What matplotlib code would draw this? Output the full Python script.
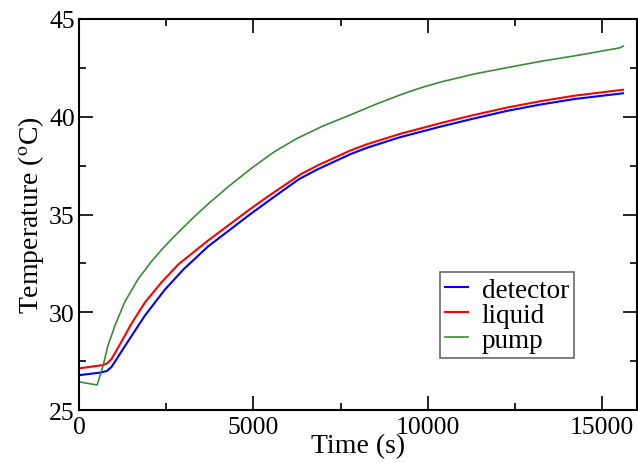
import matplotlib
matplotlib.use("Agg")
import matplotlib.pyplot as plt
from matplotlib.ticker import MultipleLocator

# Data
t_det = [0, 640, 800, 930, 1060, 1310, 1890, 2460, 3000, 3710, 3960, 4900, 5400, 6300, 6830, 7800, 8270, 9200, 10380, 11300, 12300, 13250, 14220, 15600]
detector = [26.78, 26.92, 27.0, 27.2, 27.55, 28.25, 29.83, 31.15, 32.2, 33.38, 33.72, 35.0, 35.65, 36.8, 37.3, 38.1, 38.42, 38.95, 39.5, 39.9, 40.31, 40.63, 40.91, 41.2]

t_liq = [0, 690, 800, 930, 1060, 1220, 1500, 1890, 2370, 2850, 3710, 3860, 4910, 5400, 6350, 6830, 7790, 8270, 9220, 10380, 11300, 12300, 13250, 14220, 15600]
liquid = [27.13, 27.30, 27.38, 27.6, 28.0, 28.5, 29.4, 30.5, 31.54, 32.45, 33.68, 33.88, 35.28, 35.9, 37.05, 37.5, 38.28, 38.6, 39.13, 39.68, 40.08, 40.48, 40.8, 41.08, 41.38]

t_pump = [0, 520, 690, 830, 1030, 1310, 1700, 2080, 2370, 2660, 3230, 3710, 4300, 4920, 5600, 6260, 7000, 7790, 8500, 9230, 9800, 10380, 11340, 12300, 13260, 14300, 15500, 15610]
pump = [26.44, 26.28, 27.26, 28.29, 29.31, 30.52, 31.71, 32.6, 33.2, 33.75, 34.76, 35.55, 36.45, 37.33, 38.21, 38.90, 39.53, 40.10, 40.63, 41.13, 41.48, 41.78, 42.19, 42.52, 42.84, 43.14, 43.52, 43.61]

plt.rcParams['font.family'] = ['Liberation Serif', 'DejaVu Serif']
plt.rcParams['mathtext.fontset'] = 'stix'

fig = plt.figure(figsize=(6.38, 4.64), dpi=100)
ax = fig.add_axes([0.1238, 0.1142, 0.8745, 0.8427])

ax.plot(t_det, detector, color='#0000ff', lw=1.5, label='detector')
ax.plot(t_liq, liquid, color='#ff0000', lw=1.5, label='liquid')
ax.plot(t_pump, pump, color='#3a8a3a', lw=1.2, label='pump')

ax.set_xlim(0, 16000)
ax.set_ylim(25, 45)
ax.xaxis.set_major_locator(MultipleLocator(5000))
ax.xaxis.set_minor_locator(MultipleLocator(2500))
ax.yaxis.set_major_locator(MultipleLocator(5))
ax.yaxis.set_minor_locator(MultipleLocator(2.5))
ax.tick_params(which='both', direction='in', top=True, right=True, labelsize=18.5, width=1.2)
ax.tick_params(axis='x', which='both', pad=4)
ax.tick_params(axis='y', which='both', pad=3)
ax.tick_params(which='major', length=10)
ax.tick_params(which='minor', length=5)
for s in ax.spines.values():
    s.set_linewidth(1.5)

ax.set_xlabel('Time (s)', fontsize=20, labelpad=-3)
ax.set_ylabel(r'Temperature ($^{\rm o}$C)', fontsize=20, labelpad=2)

leg = ax.legend(loc='lower left', bbox_to_anchor=(0.647, 0.133), fontsize=19.5,
                frameon=True, fancybox=False, edgecolor='#444444', handlelength=0.85,
                handletextpad=0.5, borderpad=0.2, labelspacing=0.0, borderaxespad=0)
leg.get_frame().set_linewidth(1.2)

fig.savefig('out.png', dpi=100)
